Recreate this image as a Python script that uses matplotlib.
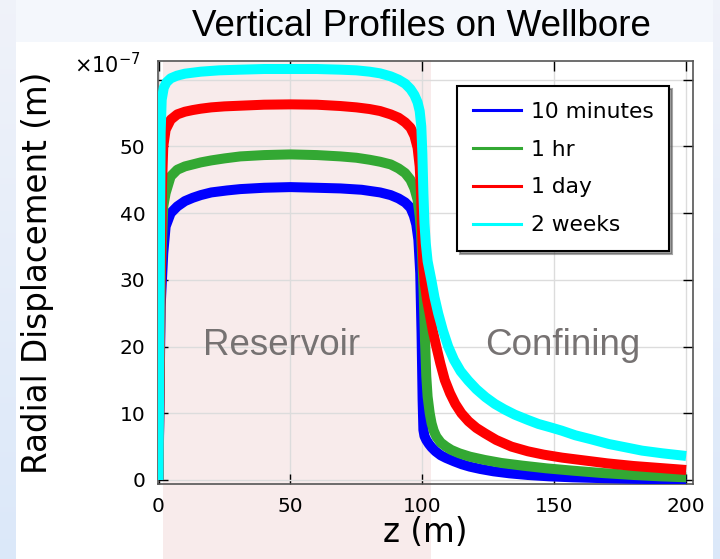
import numpy as np
import matplotlib
matplotlib.use("Agg")
import matplotlib.pyplot as plt
from matplotlib.patches import Rectangle
from matplotlib.lines import Line2D

# radial displacement along the wellbore, units of 1e-7 m
z_10min = [0, 0.8, 1.8, 2.7, 4.6, 7.1, 10, 13, 16, 20, 26, 31, 40, 50, 60, 69, 77, 84, 88,
           91, 93.5, 95.5, 96.8, 97.7, 98.5, 99.2, 99.7, 100.1, 100.4, 100.8, 101.5, 102.5,
           103.5, 105, 107, 109, 112, 115, 118, 122, 127, 133, 140, 148, 157, 168, 180,
           190, 200]
u_10min = [0, 26, 34, 38, 40, 41, 41.8, 42.3, 42.7, 43.1, 43.4, 43.6, 43.8, 43.9, 43.8,
           43.7, 43.5, 43.1, 42.7, 42.2, 41.6, 40.8, 39.6, 38.3, 36, 31, 22, 12, 7.5,
           6.6, 6.0, 5.4, 4.9, 4.3, 3.7, 3.3, 2.8, 2.35, 2.0, 1.65, 1.3, 1.0, 0.75,
           0.55, 0.4, 0.28, 0.18, 0.12, 0.08]

z_1hr = [0, 0.8, 1.8, 2.7, 4.6, 7.1, 10, 13, 16, 20, 25, 31, 40, 50, 60, 69, 75, 80, 84,
         88, 91, 93.5, 95.5, 97, 98.2, 99.0, 99.5, 100.0, 100.5, 101.0, 101.5, 102.0,
         102.8, 103.5, 104.3, 105.3, 107, 109, 111, 114, 118, 123.7, 130, 138, 147, 157,
         168, 180, 190, 200]
u_1hr = [0, 30, 41, 43, 45.5, 46.5, 47, 47.3, 47.6, 47.9, 48.2, 48.5, 48.7, 48.8, 48.7,
         48.5, 48.3, 48.0, 47.7, 47.3, 46.7, 46.0, 45.0, 43.7, 42, 39.5, 37, 33, 28, 21,
         15.5, 12.5, 10, 8.5, 7.4, 6.5, 5.6, 5.0, 4.5, 4.0, 3.5, 3.0, 2.55, 2.15, 1.75,
         1.4, 1.05, 0.75, 0.55, 0.4]

z_1day = [0, 0.8, 1.3, 1.8, 2.7, 4.6, 7.1, 10, 13, 16, 20, 25, 31, 40, 50, 60, 69, 75, 80,
          84, 88, 91, 93.5, 95.5, 97, 98.2, 99.0, 99.5, 100.0, 100.4, 100.9, 101.8, 102.8,
          104, 105.3, 106.8, 108.5, 110.5, 112.5, 114.8, 117.5, 120.5, 123.7, 128, 133.8,
          140, 146, 153, 160, 170, 180, 190, 200]
u_1day = [0, 30, 44, 50, 52.5, 54, 54.8, 55.2, 55.45, 55.65, 55.85, 56.0, 56.1, 56.25,
          56.3, 56.25, 56.05, 55.85, 55.6, 55.3, 54.8, 54.3, 53.6, 52.8, 51.6, 49.8, 47,
          43, 36, 32, 29.5, 27, 24.9, 22.3, 20, 17.5, 15, 13, 11.4, 10, 8.8, 7.8, 7.0,
          6.0, 5.0, 4.3, 3.8, 3.35, 3.0, 2.5, 2.1, 1.8, 1.5]

z_2wk = [0, 0.4, 0.8, 1.2, 2.0, 3, 4.6, 7, 10, 16, 23, 31, 40, 50, 60, 69, 75, 80, 84, 88,
         91, 93.5, 95.5, 97, 98.2, 99.0, 99.6, 100.0, 100.4, 100.8, 101.3, 102, 103.4,
         104.6, 106, 107.8, 109.8, 112, 114.5, 117.4, 120.5, 124, 127.5, 131, 135, 140,
         144, 148.5, 152.8, 158, 164, 170.6, 177, 183.3, 191, 200]
u_2wk = [0, 25, 52, 57, 58.8, 59.6, 60.2, 60.6, 60.9, 61.2, 61.4, 61.5, 61.6, 61.6, 61.6,
         61.5, 61.4, 61.2, 60.95, 60.5, 60.0, 59.4, 58.6, 57.7, 56.6, 55.3, 53, 49, 43,
         38.5, 35.5, 32.8, 30, 27.4, 25, 22.4, 20, 18.0, 16.3, 14.9, 13.6, 12.4, 11.4,
         10.6, 9.8, 9.0, 8.4, 7.9, 7.4, 6.7, 6.1, 5.4, 4.9, 4.4, 4.0, 3.6]

labels = ["10 minutes", "1 hr", "1 day", "2 weeks"]
colors = ["#0000ff", "#33a833", "#ff0000", "#00ffff"]

x_ticks = [0, 50, 100, 150, 200]
y_ticks = [0, 10, 20, 30, 40, 50, 60]
y_tick_labels = ["0", "10", "20", "30", "40", "50", ""]

fig = plt.figure(figsize=(7.2, 5.59), dpi=100)

# slide background: light blue edges, white panel, pink reservoir band
bg = fig.add_axes([0, 0, 1, 1], zorder=-10)
bg.set_axis_off()
grad = np.ones((559, 720, 3))
grad[:, :, 0] = 0.96
grad[:, :, 1] = 0.972
grad[:, :, 2] = 0.99
side = np.linspace(0.94, 0.86, 559)[:, None]
for sl in (slice(0, 16), slice(713, 720)):
    grad[:, sl, 0] = side
    grad[:, sl, 1] = side * 0.5 + 0.48
    grad[:, sl, 2] = 0.98
bg.imshow(grad, aspect="auto", extent=[0, 1, 0, 1])
bg.set_xlim(0, 1)
bg.set_ylim(0, 1)
bg.add_patch(Rectangle((16 / 720, 0), 697 / 720, 1 - 42 / 559, color="white", lw=0))
bg.add_patch(Rectangle((163 / 720, 0), 268 / 720, 1 - 60 / 559, color="#f8ebeb", lw=0))

ax = fig.add_axes([158 / 720, 1 - 484 / 559, 535 / 720, 423 / 559])
ax.set_facecolor("none")

series = [(z_10min, u_10min), (z_1hr, u_1hr), (z_1day, u_1day), (z_2wk, u_2wk)]
for (z, u), c in zip(series, colors):
    ax.plot(z, u, color=c, lw=7.2, zorder=3, solid_capstyle="butt",
            solid_joinstyle="round")

ax.set_xlim(-0.2, 202.6)
ax.set_ylim(-0.6, 62.8)
ax.set_xticks(x_ticks)
ax.set_yticks(y_ticks)
ax.set_yticklabels(y_tick_labels)
ax.grid(True, color="#dcdcdc", lw=1.0, zorder=0)
ax.set_axisbelow(True)
ax.tick_params(direction="in", length=7, width=1.0, top=True, right=True,
               labelsize=14.5, pad=9)
for s in ax.spines.values():
    s.set_color("#555555")
    s.set_linewidth(1.2)

ax.text(46.8, 18.7, "Reservoir", fontsize=26.5, color="#767272",
        family="Liberation Sans", ha="center", va="baseline", zorder=2)
ax.text(153.4, 18.7, "Confining", fontsize=26.5, color="#767272",
        family="Liberation Sans", ha="center", va="baseline", zorder=2)

handles = [Line2D([], [], color=c, lw=2.2) for c in colors]
leg = ax.legend(handles, labels, loc="upper left", bbox_to_anchor=(0.559, 0.941),
                borderaxespad=0, fontsize=15.7, frameon=True, fancybox=False,
                shadow=True, borderpad=0.72, labelspacing=0.82, handlelength=2.2,
                handletextpad=0.45)
leg.get_frame().set_edgecolor("black")
leg.get_frame().set_linewidth(1.5)
leg.set_zorder(5)

fig.text(74 / 720, 1 - 73 / 559, r"$\times10^{-7}$", fontsize=15,
         ha="left", va="baseline")
fig.text(0.586, 1 - 36 / 559, "Vertical Profiles on Wellbore", fontsize=26.5,
         family="Liberation Sans", ha="center", va="baseline")
fig.text(38 / 720, 1 - 272.5 / 559, "Radial Displacement (m)", fontsize=23.5,
         rotation=90, ha="center", va="center")
fig.text(425 / 720, 1 - 532 / 559, "z (m)", fontsize=23.5, ha="center", va="center")

fig.savefig("out.png", dpi=100)
